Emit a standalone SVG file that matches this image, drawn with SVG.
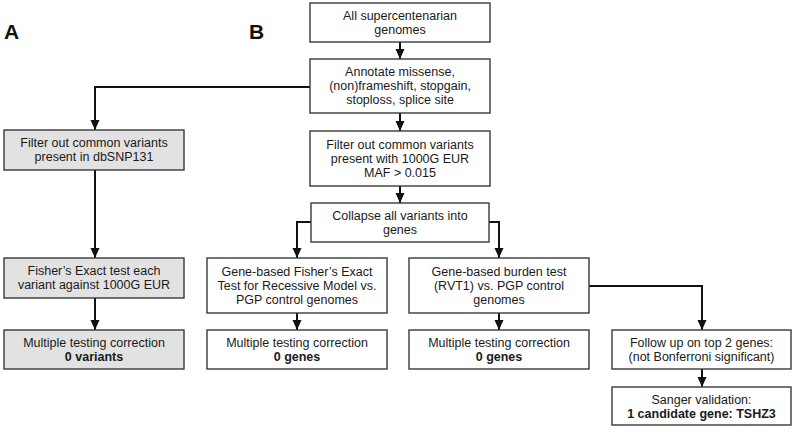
<svg xmlns="http://www.w3.org/2000/svg" width="794" height="436" viewBox="0 0 794 436">
<style>
.box{fill:#ffffff;stroke:#3a3a3a;stroke-width:1.4}
.grey{fill:#e2e2e2}
.t{font-family:"Liberation Sans",Arial,sans-serif;font-size:12.5px;fill:#1a1a1a;text-anchor:middle}
.b{font-weight:bold}
.lbl{font-family:"Liberation Sans",Arial,sans-serif;font-size:21px;font-weight:bold;fill:#111}
.c{fill:none;stroke:#111;stroke-width:2;marker-end:url(#ah)}
</style>
<defs>
<marker id="ah" markerUnits="userSpaceOnUse" markerWidth="10" markerHeight="10" viewBox="0 0 10 10" refX="10" refY="5" orient="auto">
<path d="M0,0.5 L10,5 L0,9.5 Z" fill="#111"/>
</marker>
</defs>
<rect width="794" height="436" fill="#ffffff"/>
<text class="lbl" x="4" y="39">A</text>
<text class="lbl" x="249" y="39">B</text>

<g id="connectors">
<path class="c" d="M400,42 V59"/>
<path class="c" d="M400,113 V131"/>
<path class="c" d="M400,186 V203"/>
<path class="c" d="M310,87 H95 V130"/>
<path class="c" d="M95,170 V258"/>
<path class="c" d="M95,298 V330"/>
<path class="c" d="M311,222 H297 V258"/>
<path class="c" d="M489,222 H499 V258"/>
<path class="c" d="M297,313 V330"/>
<path class="c" d="M499,313 V330"/>
<path class="c" d="M589,286 H702 V330"/>
<path class="c" d="M702,369 V387"/>
</g>

<g id="n1"><rect class="box" x="310" y="3" width="180" height="39"/>
<text class="t" x="400" y="20">All supercentenarian</text><text class="t" x="400" y="34">genomes</text></g>
<g id="n2"><rect class="box" x="310" y="59" width="180" height="54"/>
<text class="t" x="400" y="76">Annotate missense,</text><text class="t" x="400" y="90">(non)frameshift, stopgain,</text><text class="t" x="400" y="104">stoploss, splice site</text></g>
<g id="n3"><rect class="box" x="310" y="131" width="180" height="55"/>
<text class="t" x="400" y="149">Filter out common variants</text><text class="t" x="400" y="163">present with 1000G EUR</text><text class="t" x="400" y="177">MAF &gt; 0.015</text></g>
<g id="n4"><rect class="box" x="311" y="203" width="178" height="39"/>
<text class="t" x="400" y="220">Collapse all variants into</text><text class="t" x="400" y="234">genes</text></g>
<g id="n5"><rect class="box" x="207" y="258" width="180" height="55"/>
<text class="t" x="297" y="276">Gene-based Fisher’s Exact</text><text class="t" x="297" y="290">Test for Recessive Model vs.</text><text class="t" x="297" y="304">PGP control genomes</text></g>
<g id="n6"><rect class="box" x="409" y="258" width="180" height="55"/>
<text class="t" x="499" y="276">Gene-based burden test</text><text class="t" x="499" y="290">(RVT1) vs. PGP control</text><text class="t" x="499" y="304">genomes</text></g>
<g id="n7"><rect class="box" x="207" y="330" width="180" height="39"/>
<text class="t" x="297" y="347">Multiple testing correction</text><text class="t b" x="297" y="361">0 genes</text></g>
<g id="n8"><rect class="box" x="409" y="330" width="180" height="39"/>
<text class="t" x="499" y="347">Multiple testing correction</text><text class="t b" x="499" y="361">0 genes</text></g>
<g id="n9"><rect class="box" x="612" y="330" width="179" height="39"/>
<text class="t" x="701.5" y="347">Follow up on top 2 genes:</text><text class="t" x="701.5" y="361">(not Bonferroni significant)</text></g>
<g id="n10"><rect class="box" x="612" y="387" width="179" height="38"/>
<text class="t" x="701.5" y="404">Sanger validation:</text><text class="t b" x="701.5" y="418">1 candidate gene: TSHZ3</text></g>
<g id="a1"><rect class="box grey" x="4" y="130" width="180" height="40"/>
<text class="t" x="94" y="147">Filter out common variants</text><text class="t" x="94" y="161">present in dbSNP131</text></g>
<g id="a2"><rect class="box grey" x="4" y="258" width="180" height="40"/>
<text class="t" x="94" y="275">Fisher’s Exact test each</text><text class="t" x="94" y="289">variant against 1000G EUR</text></g>
<g id="a3"><rect class="box grey" x="4" y="330" width="180" height="39"/>
<text class="t" x="94" y="347">Multiple testing correction</text><text class="t b" x="94" y="361">0 variants</text></g>
</svg>
